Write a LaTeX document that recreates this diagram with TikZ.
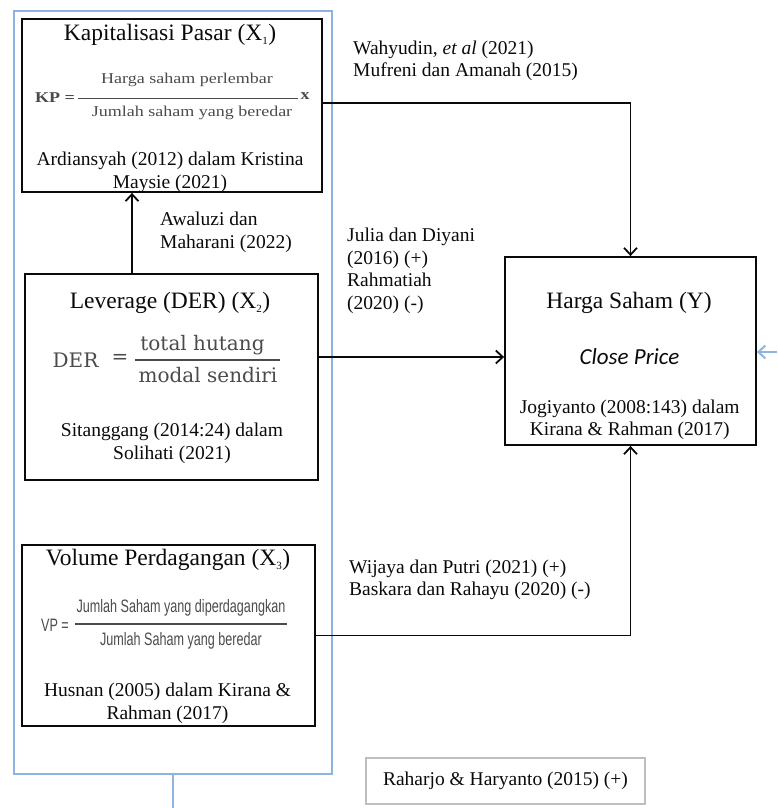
\documentclass[tikz,border=0pt]{standalone}
\usepackage{fontspec}
\setmainfont{Liberation Serif}
\newfontfamily\kpfont[FakeStretch=1.2]{Liberation Serif}
\newfontfamily\vpfont[FakeStretch=0.7]{Liberation Sans}
\newfontfamily\derfont{DejaVu Serif}
\newfontfamily\closefont{Carlito}
\usetikzlibrary{arrows.meta}
\definecolor{framecolor}{RGB}{141, 179, 226}
\definecolor{formulagray}{RGB}{75, 75, 75}
\definecolor{notegray}{RGB}{190, 190, 190}
\definecolor{inkcolor}{RGB}{10, 10, 10}
\newcommand{\subidx}[1]{\textsubscript{\fontsize{11}{11}\selectfont #1}}
\tikzset{
  varbox/.style={draw=inkcolor, line width=1.8pt, inner sep=0pt},
  framebox/.style={draw=framecolor, line width=2pt, inner sep=0pt},
  notebox/.style={draw=notegray, line width=1.4pt, inner sep=0pt, text=inkcolor, font=\fontsize{19.5}{22.5}\selectfont},
  titletext/.style={text=inkcolor, inner sep=0pt, font=\fontsize{23.5}{27}\selectfont},
  closetext/.style={text=inkcolor, inner sep=0pt, font=\closefont\itshape\fontsize{23}{26}\selectfont},
  citetext/.style={text=inkcolor, inner sep=0pt, align=center, font=\fontsize{19.5}{22.5}\selectfont},
  labeltext/.style={text=inkcolor, inner sep=0pt, anchor=west, align=left, font=\fontsize{19.5}{22.5}\selectfont},
  kpformula/.style={text=formulagray, inner sep=0pt, font=\kpfont\fontsize{15}{17}\selectfont},
  derformula/.style={text=formulagray, inner sep=0pt, font=\derfont\fontsize{20}{23}\selectfont},
  vpformula/.style={text=formulagray, inner sep=0pt, font=\vpfont\fontsize{18}{20}\selectfont},
  link/.style={draw=inkcolor, line width=1.8pt},
  framelink/.style={draw=framecolor, line width=2pt}
}

\begin{document}
\begin{tikzpicture}[x=1pt, y=-1pt, >={Straight Barb[length=7pt,width=13pt]}]
			\useasboundingbox (0,0) rectangle (777,808);
			\node[framebox, minimum width=318, minimum height=763] (frame) at (173,392.5) {};
			\node[varbox, minimum width=300, minimum height=173] (kp) at (172,105.5) {};
			\node[varbox, minimum width=293, minimum height=206] (der) at (171.5,377) {};
			\node[varbox, minimum width=293, minimum height=181] (vp) at (168.5,635.5) {};
			\node[varbox, minimum width=251, minimum height=188] (hs) at (630.5,351) {};
			\node[notebox, minimum width=279, minimum height=46] (note) at (505.5,781) {Raharjo \& Haryanto (2015) (+)};

			\node[titletext] (kptitle) at (170,35) {Kapitalisasi Pasar (X\subidx{1})};
			\node[kpformula] (kpeq) at (55,98) {\bfseries KP =};
			\node[kpformula] (kpnum) at (187,80) {Harga saham perlembar};
			\node[kpformula] (kpden) at (192,113) {Jumlah saham yang beredar};
			\node[kpformula] (kpx) at (305,96) {\bfseries x};
			\draw[formulagray, line width=1pt] (78,98) -- (298,98);
			\node[citetext] (kpcite) at (170,172.5) {Ardiansyah (2012) dalam Kristina\\Maysie (2021)};

			\node[titletext] (dertitle) at (170,303) {Leverage (DER) (X\subidx{2})};
			\node[derformula] (dereq) at (75.5,360) {DER};
			\node[derformula] (dereqsign) at (120,359) {=};
			\node[derformula] (dernum) at (202.5,345) {total hutang};
			\node[derformula] (derden) at (208,375) {modal sendiri};
			\draw[formulagray, line width=1.3pt] (135,360) -- (280,360);
			\node[citetext] (dercite) at (172,443.5) {Sitanggang (2014:24) dalam\\Solihati (2021)};

			\node[titletext] (vptitle) at (168,560) {Volume Perdagangan (X\subidx{3})};
			\node[vpformula] (vpeq) at (55,625) {VP =};
			\node[vpformula] (vpnum) at (181,608) {Jumlah Saham yang diperdagangkan};
			\node[vpformula] (vpden) at (181,641) {Jumlah Saham yang beredar};
			\draw[formulagray, line width=1.3pt] (75,624) -- (287,624);
			\node[citetext] (vpcite) at (167.5,703.5) {Husnan (2005) dalam Kirana \&\\Rahman (2017)};

			\node[titletext] (hstitle) at (629,303) {Harga Saham (Y)};
			\node[closetext] (hsclose) at (629.5,357) {Close Price};
			\node[citetext] (hscite) at (629.7,420) {Jogiyanto (2008:143) dalam\\Kirana \& Rahman (2017)};

			\node[labeltext] (kplabel) at (353,61) {Wahyudin, \textit{et al} (2021)\\Mufreni dan Amanah (2015)};
			\node[labeltext] (kpderlabel) at (160,232.5) {Awaluzi dan\\Maharani (2022)};
			\node[labeltext] (derlabel) at (347,271) {Julia dan Diyani\\(2016) (+)\\Rahmatiah\\(2020) (-)};
			\node[labeltext] (vplabel) at (349,580) {Wijaya dan Putri (2021) (+)\\Baskara dan Rahayu (2020) (-)};

			\draw[link, ->] ([yshift=2.5]kp.east) -| (hs.north);
			\draw[link, ->] ([yshift=20]der.east) -- ([yshift=20]der.east -| hs.west);
			\draw[link, ->] (vp.east) -| (hs.south);
			\draw[link, ->] ([xshift=-39.5]der.north) -- ([xshift=-39.5]der.north |- kp.south);

			\coordinate (framestub) at (173,808);
			\draw[framelink] (frame.south) -- (framestub);
			\coordinate (bluein) at (777,352);
			\draw[framelink, ->] (bluein) -- (bluein -| hs.east);
		\end{tikzpicture}
\end{document}
